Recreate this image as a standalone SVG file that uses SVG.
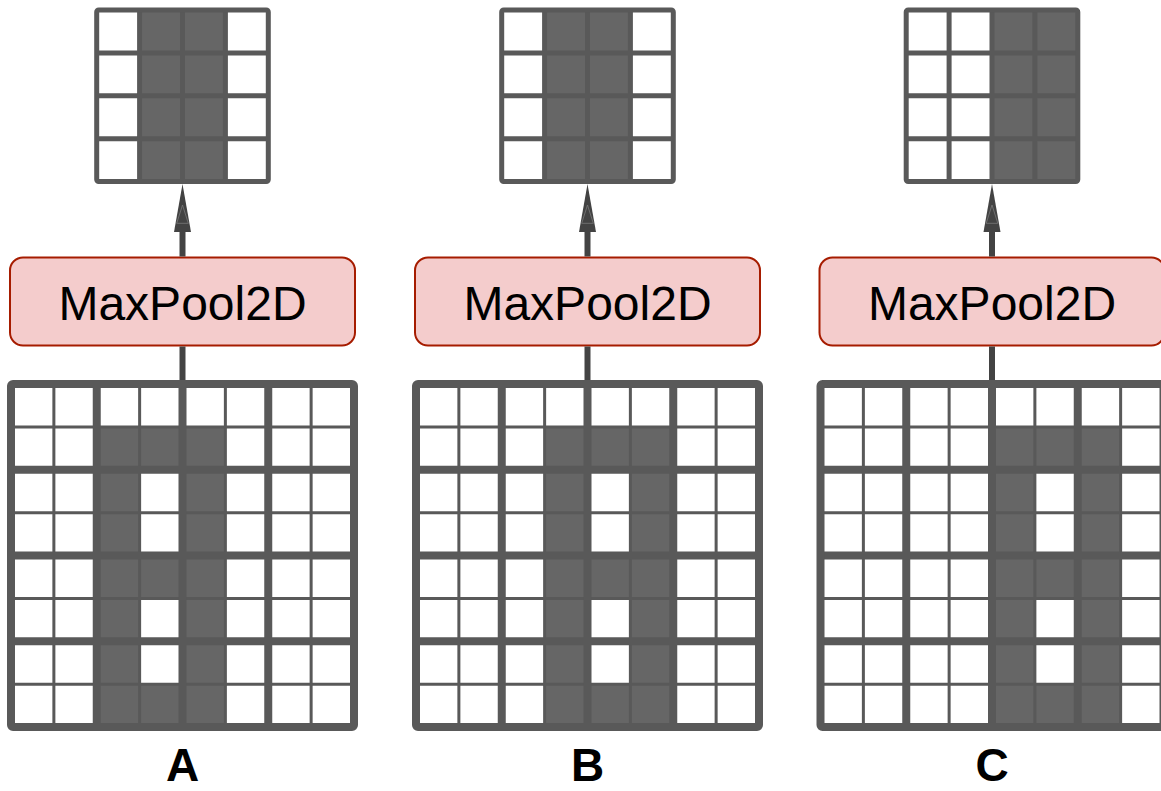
<svg xmlns="http://www.w3.org/2000/svg" xmlns:xlink="http://www.w3.org/1999/xlink" width="1161" height="791" viewBox="0 0 1161 791">
<style>
.thin{stroke:#595959;stroke-width:3;fill:none}
.thick{stroke:#595959;stroke-width:8;fill:none}
.out{stroke:#595959;stroke-width:8;fill:none}
.tl{stroke:#595959;stroke-width:5;fill:none}
.dark{fill:#666666}
.wh{fill:#ffffff}
.box{fill:#f4cccc;stroke:#a61c00;stroke-width:2}
.btxt{font-family:"Liberation Sans",Arial,sans-serif;font-size:48px;fill:#000;text-anchor:middle}
.lbl{font-family:"Liberation Sans",Arial,sans-serif;font-size:46px;font-weight:bold;fill:#000;text-anchor:middle}
.conn{stroke:#434343;stroke-width:6;fill:none}
</style>
<defs>
<marker id="ah" markerUnits="userSpaceOnUse" markerWidth="49" markerHeight="18" refX="0" refY="8.5" orient="auto" overflow="visible">
<path d="M0,0 L48,8.5 L0,17 z" fill="#434343"/>
<path d="M8.7,2.7 L27,8.5 L8.7,14.3 z" fill="none" stroke="#7a7a7a" stroke-width="0.8"/>
</marker>
<g id="bigLines">
<path class="thin" d="M53.875,384V727M139.625,384V727M225.375,384V727M311.125,384V727M11,426.875H354M11,512.625H354M11,598.375H354M11,684.125H354"/>
<path class="thick" d="M96.75,384V727M182.5,384V727M268.25,384V727M11,469.75H354M11,555.5H354M11,641.25H354"/>
<rect class="out" x="11" y="384" width="343" height="343" rx="2"/>
</g>
<g id="smallLines">
<path class="tl" d="M139.6,10V181.6M182.5,10V181.6M225.4,10V181.6M96.7,52.9H268.3M96.7,95.8H268.3M96.7,138.7H268.3"/>
<rect class="tl" x="96.7" y="10" width="171.6" height="171.6" rx="2"/>
</g>
</defs>
<rect width="1161" height="791" fill="#ffffff"/>

<g id="panelA">
<g id="inputA">
<rect class="dark" x="96.75" y="426.875" width="128.625" height="300.125"/>
<rect class="wh" x="139.625" y="469.75" width="42.875" height="85.75"/>
<rect class="wh" x="139.625" y="598.375" width="42.875" height="85.75"/>
<use xlink:href="#bigLines"/>
</g>
<g id="poolA">
<rect class="box" x="10" y="257.5" width="345" height="88" rx="13"/>
<text class="btxt" x="182.5" y="320">MaxPool2D</text>
</g>
<g id="outputA">
<rect class="dark" x="139.6" y="10" width="85.8" height="171.6"/>
<use xlink:href="#smallLines"/>
</g>
<text id="labelA" class="lbl" x="182.5" y="781">A</text>
</g>

<g id="panelB" transform="translate(405,0)">
<g id="inputB">
<rect class="dark" x="139.625" y="426.875" width="128.625" height="300.125"/>
<rect class="wh" x="182.5" y="469.75" width="42.875" height="85.75"/>
<rect class="wh" x="182.5" y="598.375" width="42.875" height="85.75"/>
<use xlink:href="#bigLines"/>
</g>
<g id="poolB">
<rect class="box" x="10" y="257.5" width="345" height="88" rx="13"/>
<text class="btxt" x="182.5" y="320">MaxPool2D</text>
</g>
<g id="outputB">
<rect class="dark" x="139.6" y="10" width="85.8" height="171.6"/>
<use xlink:href="#smallLines"/>
</g>
<text id="labelB" class="lbl" x="182.5" y="781">B</text>
</g>

<g id="panelC" transform="translate(809.5,0)">
<g id="inputC">
<rect class="dark" x="182.5" y="426.875" width="128.625" height="300.125"/>
<rect class="wh" x="225.375" y="469.75" width="42.875" height="85.75"/>
<rect class="wh" x="225.375" y="598.375" width="42.875" height="85.75"/>
<use xlink:href="#bigLines"/>
</g>
<g id="poolC">
<rect class="box" x="10" y="257.5" width="345" height="88" rx="13"/>
<text class="btxt" x="182.5" y="320">MaxPool2D</text>
</g>
<g id="outputC">
<rect class="dark" x="182.5" y="10" width="85.8" height="171.6"/>
<use xlink:href="#smallLines"/>
</g>
<text id="labelC" class="lbl" x="182.5" y="781">C</text>
</g>

<g id="connectors">
<path class="conn" d="M182.5,380V346.5"/>
<path class="conn" d="M182.5,256.5V232" marker-end="url(#ah)"/>
<path class="conn" d="M587.5,380V346.5"/>
<path class="conn" d="M587.5,256.5V232" marker-end="url(#ah)"/>
<path class="conn" d="M992,380V346.5"/>
<path class="conn" d="M992,256.5V232" marker-end="url(#ah)"/>
</g>
</svg>
